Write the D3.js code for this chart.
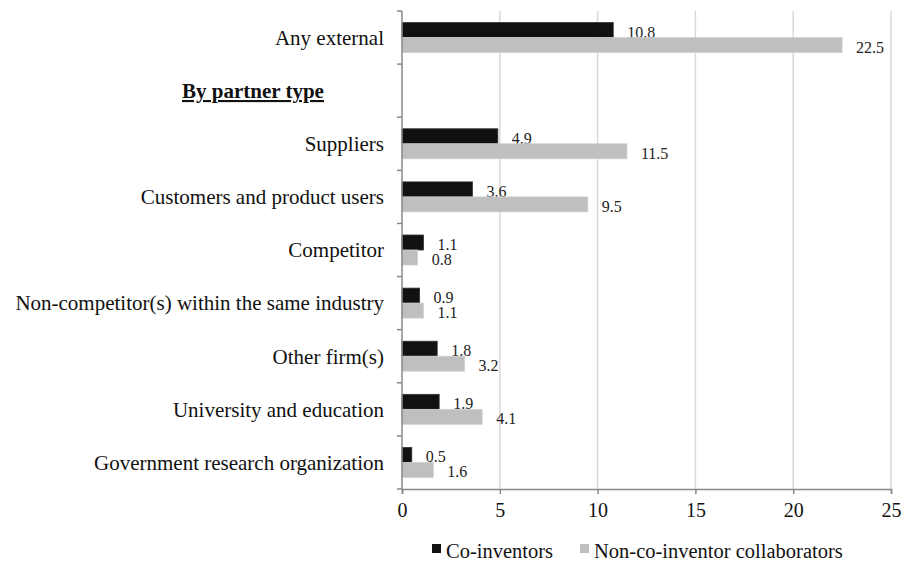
<!DOCTYPE html>
<html>
<head>
<meta charset="utf-8">
<script src="https://cdn.jsdelivr.net/npm/d3@7"></script>
<style>
  body { margin: 0; background: #fff; }
  svg { font-family: "Liberation Serif", "Times New Roman", serif; }
</style>
</head>
<body>
<div id="graph"></div>
<script>
// Rows from top to bottom; the header row has no bars
const categories = [
  "Any external",
  "By partner type",
  "Suppliers",
  "Customers and product users",
  "Competitor",
  "Non-competitor(s) within the same industry",
  "Other firm(s)",
  "University and education",
  "Government research organization",
];
const headerRow = "By partner type";
const coInventors = [10.8, null, 4.9, 3.6, 1.1, 0.9, 1.8, 1.9, 0.5];
const collaborators = [22.5, null, 11.5, 9.5, 0.8, 1.1, 3.2, 4.1, 1.6];
const xTicks = [0, 5, 10, 15, 20, 25];
const seriesNames = ["Co-inventors", "Non-co-inventor collaborators"];
const seriesColors = ["#111111", "#bfbfbf"];

const width = 910;
const height = 571;
const margin = { top: 11, right: 19, bottom: 82, left: 402 };

const svg = d3
  .select("#graph")
  .append("svg")
  .attr("width", width)
  .attr("height", height);

const x = d3
  .scaleLinear()
  .domain([0, 25])
  .range([margin.left, width - margin.right]);

const y = d3
  .scaleBand()
  .domain(categories)
  .range([margin.top, height - margin.bottom]);

const barH = 15;

// Vertical gridlines
svg
  .append("g")
  .selectAll("line")
  .data(xTicks.filter(t => t > 0))
  .enter()
  .append("line")
  .attr("x1", d => x(d))
  .attr("x2", d => x(d))
  .attr("y1", margin.top)
  .attr("y2", height - margin.bottom)
  .style("stroke", "#d9d9d9")
  .style("stroke-width", 1.5);

// Bars
const rows = categories.map((c, i) => ({
  cat: c,
  values: [coInventors[i], collaborators[i]],
}));

const rowG = svg
  .append("g")
  .selectAll("g")
  .data(rows.filter(r => r.values[0] !== null))
  .enter()
  .append("g")
  .attr("transform", d => `translate(0, ${y(d.cat) + y.bandwidth() / 2 - barH})`);

[0, 1].forEach(s => {
  rowG
    .append("rect")
    .attr("x", x(0))
    .attr("y", s * barH)
    .attr("width", d => x(d.values[s]) - x(0))
    .attr("height", barH)
    .style("fill", seriesColors[s])
    .style("stroke", s === 0 ? "#333" : "#d0d0d0")
    .style("stroke-width", 0.8);

  rowG
    .append("text")
    .attr("x", d => x(d.values[s]) + 14)
    .attr("y", s * barH + barH)
    .style("font-size", "16px")
    .style("fill", "#222")
    .text(d => d.values[s].toFixed(1));
});

// Y axis
const yAxis = svg
  .append("g")
  .attr("transform", `translate(${margin.left}, 0)`);
yAxis
  .append("line")
  .attr("y1", margin.top)
  .attr("y2", height - margin.bottom)
  .style("stroke", "#888")
  .style("stroke-width", 1.5);
yAxis
  .selectAll(".ytick")
  .data(categories.concat(["__end"]))
  .enter()
  .append("line")
  .attr("x1", -5)
  .attr("x2", 0)
  .attr("y1", (d, i) => margin.top + i * y.step())
  .attr("y2", (d, i) => margin.top + i * y.step())
  .style("stroke", "#888")
  .style("stroke-width", 1.5);

// Category labels
svg
  .append("g")
  .selectAll("text")
  .data(categories.filter(c => c !== headerRow))
  .enter()
  .append("text")
  .attr("x", margin.left - 18)
  .attr("y", d => y(d) + y.bandwidth() / 2)
  .attr("dy", "0.35em")
  .attr("text-anchor", "end")
  .style("font-size", "21px")
  .style("fill", "#111")
  .text(d => d);

svg
  .append("text")
  .attr("x", 182)
  .attr("y", y(headerRow) + y.bandwidth() / 2)
  .attr("dy", "0.35em")
  .style("font-size", "21px")
  .style("font-weight", "bold")
  .style("text-decoration", "underline")
  .style("fill", "#111")
  .text(headerRow);

// X axis
const xAxis = svg
  .append("g")
  .attr("transform", `translate(0, ${height - margin.bottom})`)
  .call(d3.axisBottom(x).tickValues(xTicks).tickSize(5).tickPadding(9));
xAxis.select(".domain").style("stroke", "#888").style("stroke-width", 1.5);
xAxis.selectAll(".tick line").style("stroke", "#888").style("stroke-width", 1.5);
xAxis
  .selectAll(".tick text")
  .style("font-family", "Liberation Serif, serif")
  .style("font-size", "20px")
  .style("fill", "#111");

// Legend
const legend = svg.append("g").attr("transform", `translate(432, 552)`);
const legendX = [0, 148];
seriesNames.forEach((name, i) => {
  legend
    .append("rect")
    .attr("x", legendX[i])
    .attr("y", -8)
    .attr("width", 9)
    .attr("height", 9)
    .style("fill", seriesColors[i]);
  legend
    .append("text")
    .attr("x", legendX[i] + 14)
    .attr("y", 0)
    .attr("dy", "0.3em")
    .style("font-size", "20.5px")
    .style("fill", "#111")
    .text(name);
});
</script>
</body>
</html>
